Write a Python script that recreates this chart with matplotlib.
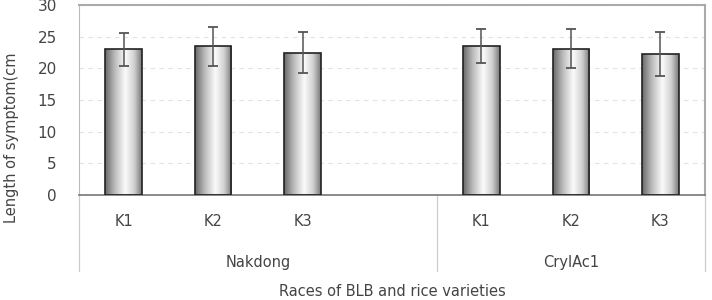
import numpy as np
import matplotlib
matplotlib.use("Agg")
import matplotlib.pyplot as plt
from matplotlib.patches import Rectangle
from matplotlib.colors import LinearSegmentedColormap
import matplotlib.transforms as mtransforms

# data
races = ["K1", "K2", "K3"]
varieties = ["Nakdong", "CrylAc1"]
lengths = [23.0, 23.5, 22.5, 23.5, 23.1, 22.3]
errors = [2.6, 3.1, 3.3, 2.65, 3.05, 3.45]

plt.rcParams['font.family'] = ['DejaVu Sans']
txt_color = "#444444"

fig = plt.figure(figsize=(7.12, 3.0), dpi=100)
ax = fig.add_axes([79 / 712, 1 - 195 / 300, 626 / 712, 190 / 300])

# one empty slot after the first variety
positions = [0, 1, 2, 4, 5, 6]
bar_w = 0.41

# cylinder-like shading for the bars
shade = LinearSegmentedColormap.from_list(
    "shade", [(0.0, "#6a6a6a"), (0.25, "#b8b8b8"), (0.55, "#fbfbfb"),
              (0.8, "#d0d0d0"), (1.0, "#7a7a7a")])
grad = np.linspace(0, 1, 64).reshape(1, -1)

bars = ax.bar(positions, lengths, width=bar_w, facecolor="none",
              edgecolor="#222222", linewidth=1.2, zorder=3)
for b in bars:
    x0, y0, w, h = b.get_x(), b.get_y(), b.get_width(), b.get_height()
    im = ax.imshow(grad, cmap=shade, extent=(x0, x0 + w, y0, y0 + h),
                   aspect="auto", zorder=2, interpolation="bicubic")
    clip = Rectangle((x0, y0), w, h, transform=ax.transData)
    im.set_clip_path(clip)

ax.errorbar(positions, lengths, yerr=errors, fmt="none", ecolor="#555555",
            elinewidth=1.1, capsize=3.5, capthick=1.3, zorder=4)

ax.set_xlim(-0.5, 6.5)
ax.set_ylim(0, 30)
ax.set_yticks(range(0, 31, 5))
ax.yaxis.grid(True, linestyle=(0, (4, 4)), color="#e2e2e2", linewidth=0.8)
ax.set_axisbelow(True)

for side in ["top", "right"]:
    ax.spines[side].set_color("#aaaaaa")
    ax.spines[side].set_linewidth(1.5)
ax.spines["left"].set_color("#bbbbbb")
ax.spines["bottom"].set_color("#777777")
ax.spines["bottom"].set_linewidth(1.2)

ax.tick_params(axis="y", length=0, pad=16, labelsize=11, labelcolor=txt_color)
ax.set_xticks(positions)
ax.set_xticklabels(races * 2)
ax.tick_params(axis="x", length=0, pad=14, labelsize=10.5, labelcolor=txt_color)

# category axis below the plot: separators and variety names
trans = mtransforms.blended_transform_factory(ax.transData, ax.transAxes)
for xs in [-0.5, 3.5, 6.5]:
    ax.plot([xs, xs], [0, -0.4], color="#cccccc", linewidth=0.9,
            transform=trans, clip_on=False)
for i, name in enumerate(varieties):
    ax.text(1.5 + 3.5 * i, -0.353, name, transform=trans, ha="center",
            va="center", fontsize=10.5, color=txt_color)

ax.text(3.0, -0.545, "Races of BLB and rice varieties", transform=trans,
        ha="center", va="bottom", fontsize=10.5, color=txt_color)
fig.text(12 / 712, 1 - 138 / 300, "Length of symptom(cm", rotation=90,
         ha="center", va="center", fontsize=10.5, color=txt_color)

fig.savefig("out.png", dpi=100)
